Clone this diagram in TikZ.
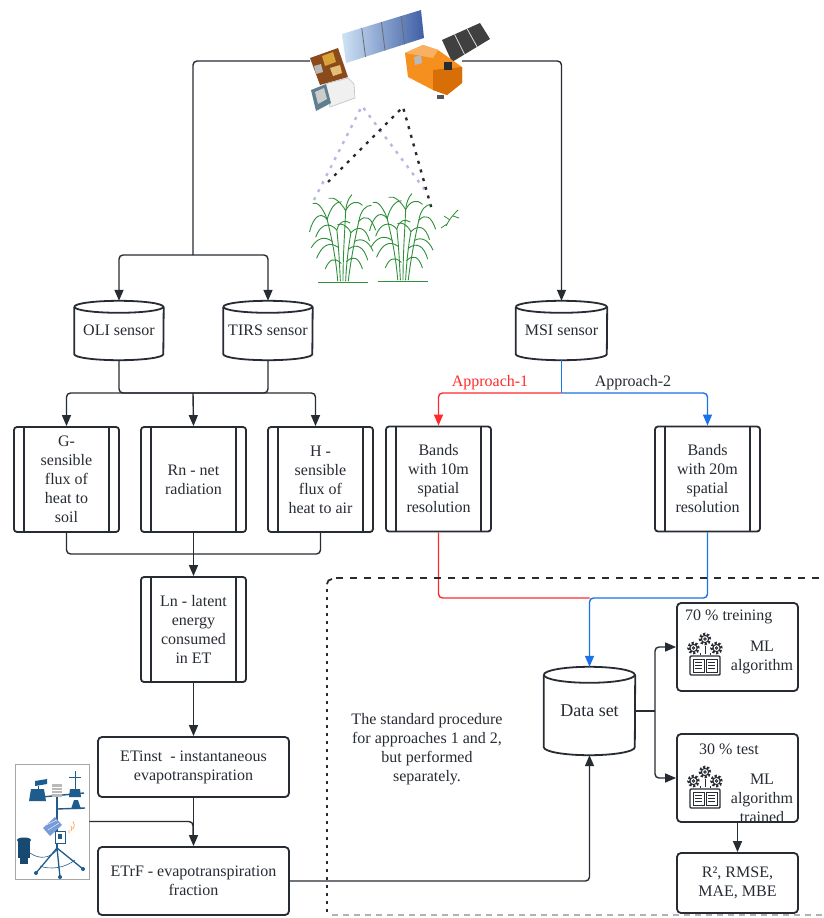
\documentclass[tikz,border=0pt]{standalone}
\usepackage{fontspec}
\setmainfont{Liberation Serif}
\usetikzlibrary{arrows.meta,calc}
\definecolor{ink}{HTML}{272C33}
\definecolor{ared}{HTML}{FF2B2B}
\definecolor{ablue}{HTML}{1A73E8}
\definecolor{leaf}{HTML}{2F8F3A}
\definecolor{stblue}{HTML}{1E5C8E}
\definecolor{sky}{HTML}{CFE3F5}
\definecolor{panelblue}{HTML}{3F5FA6}
\definecolor{sorange}{HTML}{F5901E}
\definecolor{sdorange}{HTML}{D86E08}
\definecolor{lbrown}{HTML}{8A4A1C}
\definecolor{lgold}{HTML}{D9A23A}
\definecolor{slate}{HTML}{5D7F8F}
\newcommand\mytxt{\fontsize{16}{19}\selectfont}
\newcommand\cylout[3]{%
  \draw[draw=ink,line width=1.8pt] ([yshift=-#3]#1.north west) arc[start angle=180,end angle=-180,x radius=#2,y radius=#3];
  \draw[draw=ink,line width=1.8pt] ([yshift=-#3]#1.north west) -- ([yshift=#3]#1.south west) arc[start angle=180,end angle=360,x radius=#2,y radius=#3] -- ([yshift=-#3]#1.north east);}
\newcommand\proclines[1]{%
  \draw[draw=ink,line width=1.8pt] ([xshift=11pt]#1.north west) -- ([xshift=11pt]#1.south west) ([xshift=-11pt]#1.north east) -- ([xshift=-11pt]#1.south east);}
\newcommand\canes[1]{%
  \begin{scope}[shift={#1},scale=0.88,draw=leaf,line width=0.9pt,line cap=round]
    \draw (-6,0) .. controls (-8,-25) and (-12,-45) .. (-18,-70);
    \draw (-3,0) .. controls (-4,-20) and (-5,-40) .. (-7,-58);
    \draw (0,0) .. controls (0,-30) and (2,-55) .. (3,-80);
    \draw (3,0) .. controls (4,-20) and (6,-38) .. (9,-55);
    \draw (6,0) .. controls (9,-25) and (13,-45) .. (18,-68);
    \draw (-18,-70) .. controls (-26,-80) and (-34,-72) .. (-38,-56);
    \draw (-18,-70) .. controls (-14,-84) and (-8,-90) .. (-2,-90);
    \draw (-18,-70) .. controls (-24,-86) and (-30,-90) .. (-34,-88);
    \draw (3,-80) .. controls (8,-90) and (16,-92) .. (22,-86);
    \draw (3,-80) .. controls (-3,-90) and (-10,-96) .. (-16,-94);
    \draw (3,-80) .. controls (4,-88) and (6,-94) .. (10,-98);
    \draw (18,-68) .. controls (26,-76) and (32,-72) .. (37,-58);
    \draw (18,-68) .. controls (20,-80) and (26,-86) .. (32,-86);
    \draw (-7,-58) .. controls (-16,-68) and (-26,-64) .. (-31,-50);
    \draw (-7,-58) .. controls (-4,-68) and (2,-70) .. (8,-66);
    \draw (9,-55) .. controls (18,-64) and (26,-60) .. (30,-46);
    \draw (9,-55) .. controls (4,-64) and (-2,-66) .. (-6,-64);
    \draw (-5,-38) .. controls (-16,-46) and (-24,-40) .. (-30,-26);
    \draw (6,-36) .. controls (16,-44) and (24,-38) .. (28,-24);
    \draw (-2,-20) .. controls (-10,-28) and (-16,-24) .. (-20,-14);
    \draw (4,-22) .. controls (12,-30) and (18,-26) .. (22,-14);
    \draw (13,-45) .. controls (22,-50) and (30,-44) .. (34,-34);
    \draw (-12,-45) .. controls (-22,-52) and (-30,-48) .. (-36,-38);
    \draw[line width=0.6pt] (-28,2) -- (28,2);
  \end{scope}}
\tikzset{mlicon/.pic={
  \foreach \gx/\gy in {-11.5/-8,0/-17,11.5/-8}{
    \draw[ink,line width=2.6pt,dash pattern=on 2pt off 1.8pt] (\gx,\gy) circle[radius=5pt];
    \draw[ink,line width=1pt,fill=white] (\gx,\gy) circle[radius=3.6pt];
    \draw[ink,line width=0.9pt] (\gx,\gy) circle[radius=1.3pt];
  }
  \draw[ink,line width=0.8pt] (-5,-3)--(-5,-1) (0,-10)--(0,-2) (5,-3)--(5,-1);
  \draw[ink,line width=1.4pt,rounded corners=1pt] (-15,0) rectangle (15,19);
  \draw[ink,line width=1pt] (-12,3) rectangle (-1,16) (1,3) rectangle (12,16);
  \foreach \ly in {6.5,9.5,12.5}{\draw[ink,line width=0.9pt] (-10,\ly)--(-3,\ly) (3,\ly)--(10,\ly);}
}}
\begin{document}
\begin{tikzpicture}[x=1pt,y=-1pt,
  conn/.style={draw=ink,line width=1.4pt,rounded corners=4pt},
  arr/.style={-{Triangle[length=11pt,width=9pt]}},
  procbox/.style={draw=ink,line width=1.8pt,rounded corners=3pt,minimum width=105pt,minimum height=105pt,inner sep=0pt,align=center,font=\mytxt,text=ink},
  cylnode/.style={inner sep=0pt,minimum width=89pt,minimum height=59pt,font=\mytxt,text=ink},
  rbox/.style={draw=ink,line width=1.8pt,rounded corners=4pt,inner sep=0pt,align=center,font=\mytxt,text=ink},
  lbl/.style={font=\mytxt,text=ink,align=center,inner sep=0pt}]
\useasboundingbox (0,0) rectangle (824,918);
\fill[white] (0,0) rectangle (824,918);

% ---------- satellites ----------
\coordinate (pA) at (342,34); \coordinate (pB) at (421,10);
\coordinate (pC) at (424,38); \coordinate (pD) at (346,63);
\shade[left color=sky,right color=panelblue] (pA)--(pB)--(pC)--(pD)--cycle;
\foreach \t in {0.25,0.5,0.75}{\draw[ink!70,line width=0.8pt] ($(pA)!\t!(pB)$) -- ($(pD)!\t!(pC)$);}
\fill[lbrown] (310,58) -- (338,48) -- (348,77) -- (320,85) -- cycle;
\fill[lgold] (322,56) -- (333,52) -- (336,62) -- (325,66) -- cycle;
\fill[gray!55] (314,66) -- (321,64) -- (323,72) -- (316,74) -- cycle;
\fill[lgold!70!white] (330,68) -- (340,65) -- (342,73) -- (333,76) -- cycle;
\fill[gray!12] (325,84) -- (348,78) -- (354,84) -- (355,98) -- (330,107) -- cycle;
\draw[gray!50,line width=0.6pt] (325,84) -- (348,78) -- (354,84) -- (355,98) -- (330,107) -- cycle;
\fill[slate] (311,90) -- (326,84) -- (331,103) -- (316,111) -- cycle;
\fill[gray!40] (315,92) -- (324,88) -- (327,99) -- (318,104) -- cycle;
% sentinel
\fill[gray!50!black] (442,40)--(480,23)--(490,39)--(452,62)--cycle;
\foreach \t in {0.33,0.66}{\draw[gray!25,line width=0.8pt] ($(442,40)!\t!(480,23)$) -- ($(452,62)!\t!(490,39)$);}
\fill[sorange] (405,53) -- (423,45) -- (438,50) -- (462,67) -- (462,83) -- (447,95) -- (433,90) -- (408,77) -- cycle;
\fill[sdorange] (433,70) -- (462,67) -- (462,83) -- (447,95) -- (433,90) -- cycle;
\fill[sorange!70!white] (405,53) -- (423,45) -- (438,50) -- (433,58) -- cycle;
\fill[gray!55] (414,57) -- (421,55) -- (422,63) -- (415,65) -- cycle;
\fill[ink] (444,62) rectangle (452,70);
\fill[ink!80] (437,95) rectangle (444,99);

% ---------- dotted view lines ----------
\draw[gray!60!blue!40,line width=2.4pt,dash pattern=on 3pt off 6pt] (314,200) -- (362,106) -- (425,190);
\draw[ink,line width=2.4pt,dash pattern=on 3pt off 6pt] (328,182) -- (403,107) -- (432,210);

% ---------- sugarcane ----------
\canes{(343,281)}
\canes{(403,280)}
\begin{scope}[draw=leaf,line width=0.8pt]
  \draw (446,226) .. controls (450,218) and (454,214) .. (458,210);
  \draw (450,220) -- (444,216) (453,216) -- (459,218) (447,224) -- (441,228);
\end{scope}

% ---------- nodes ----------
\node[cylnode] (oli) at (119,330.5) {OLI sensor};
\node[cylnode] (tirs) at (268,330.5) {TIRS sensor};
\node[cylnode,minimum width=91pt] (msi) at (561.5,330.5) {MSI sensor};
\cylout{oli}{44.5pt}{6pt}
\cylout{tirs}{44.5pt}{6pt}
\cylout{msi}{45.5pt}{6pt}

\node[procbox] (G) at (66.5,479.5) {G-\\sensible\\flux of\\heat to\\soil};
\node[procbox] (Rn) at (193.5,479.5) {Rn - net\\radiation};
\node[procbox] (H) at (320.5,479.5) {H -\\sensible\\flux of\\heat to air};
\node[procbox] (B10) at (438.5,479) {Bands\\with 10m\\spatial\\resolution};
\node[procbox] (B20) at (707.5,479) {Bands\\with 20m\\spatial\\resolution};
\node[procbox] (Ln) at (193.5,629.5) {Ln - latent\\energy\\consumed\\in ET};
\foreach \n in {G,Rn,H,B10,B20,Ln}{\proclines{\n}}

\node[rbox,minimum width=191pt,minimum height=60pt] (ETi) at (193.5,767) {ETinst~~- instantaneous\\evapotranspiration};
\node[rbox,minimum width=191pt,minimum height=68pt] (ETf) at (193.5,881) {ETrF - evapotranspiration\\fraction};

\node[draw=gray!70,line width=0.8pt,minimum width=74pt,minimum height=115pt,inner sep=0pt] (station) at (52,821.5) {};

\node[inner sep=0pt,minimum width=91pt,minimum height=88pt,font=\fontsize{18}{21}\selectfont,text=ink] (ds) at (589.5,711) {Data set};
\cylout{ds}{45.5pt}{8pt}

\node[rbox,minimum width=121pt,minimum height=88pt] (T70) at (737.5,647) {};
\node[rbox,minimum width=121pt,minimum height=88pt] (T30) at (737.5,778) {};
\node[rbox,minimum width=121pt,minimum height=60pt] (R2) at (737.5,883) {R², RMSE,\\MAE, MBE};
\node[lbl,anchor=west] (t70a) at (685,617) {70 \% treining};
\node[lbl] (t70b) at (762,657) {ML\\algorithm};
\node[lbl] (t30a) at (729,749) {30 \% test};
\node[lbl] (t30b) at (762,798) {ML\\algorithm\\trained};
\pic at (705,656) {mlicon};
\pic at (705,789) {mlicon};

\node[lbl] (note) at (427,749) {The standard procedure\\for approaches 1 and 2,\\but performed\\separately.};

\node[lbl,text=ared] (ap1) at (490,383) {Approach-1};
\node[lbl] (ap2) at (633,383) {Approach-2};

% ---------- weather station drawing ----------
\begin{scope}[stblue]
  \draw[line width=1.6pt] (57,786) -- (57,848);
  \draw[line width=1.4pt] (31,798) -- (84,793);
  \draw[line width=1.4pt] (57,809) -- (85,808);
  \fill (31,789) -- (44,789) -- (46,801) -- (29,801) -- cycle;
  \fill (35,781) -- (47,779) -- (47,784) -- (35,786) -- cycle;
  \draw[line width=1pt] (38,786) -- (38,789);
  \fill[gray!55] (52,784) rectangle (62,797);
  \draw[white,line width=0.5pt] (52,787) -- (62,787) (52,790) -- (62,790) (52,793) -- (62,793);
  \draw[line width=1pt] (69,777) -- (81,777) (75,771) -- (75,790);
  \fill (70,789) -- (80,789) -- (81,797) -- (69,797) -- cycle;
  \fill (71,809) -- (81,809) -- (78,800) -- (74,800) -- cycle;
  \fill[cyan!45!blue!55] (43,828) -- (55,817) -- (62,825) -- (50,836) -- cycle;
  \draw[white,line width=0.4pt] (46,825) -- (57,820) (48,830) -- (59,823);
  \fill[white] (55,831) rectangle (65,843);
  \draw[line width=0.8pt] (55,831) rectangle (65,843);
  \fill (58,834) rectangle (62,839);
  \draw[orange!80,line width=0.6pt] (69,833) arc[start angle=-40,end angle=40,radius=2pt] (71,831) arc[start angle=-40,end angle=40,radius=4pt] (73,829) arc[start angle=-40,end angle=40,radius=6pt];
  \draw[line width=1.3pt] (57,848) -- (36,873) (57,848) -- (83,869) (57,848) -- (60,877);
  \fill (36,873) circle[radius=2pt] (83,869) circle[radius=2pt] (60,877) circle[radius=2pt];
  \fill[stblue!80!black] (18,840) rectangle (30,858);
  \fill[stblue!80!black] (24,840) ellipse[x radius=7pt,y radius=2.5pt];
  \fill[stblue!80!black] (20,858) rectangle (28,864);
  \draw[line width=0.6pt] (30,853) .. controls (40,860) and (50,858) .. (57,850);
  \draw[line width=0.6pt] (40,866) .. controls (50,870) and (65,868) .. (75,860);
\end{scope}

% ---------- connectors ----------
\coordinate (lsat) at (310,61);
\coordinate (rsat) at (462,61);
\coordinate (jA) at (193,255);
\coordinate (jB) at (193,393);
\coordinate (jC) at (193,554);
\coordinate (jD) at (193,836);
\coordinate (jE) at (561.5,393);
\coordinate (jF) at (589.5,598);
\coordinate (jG) at (655,711);

\draw[conn] (lsat) -| (jA);
\draw[conn,arr] (jA) -| (oli.north);
\draw[conn,arr] (jA) -| (tirs.north);
\draw[conn,arr] (rsat) -| (msi.north);

\draw[conn] (oli.south) |- (jB);
\draw[conn] (tirs.south) |- (jB);
\draw[conn,arr] (jB) -| (G.north);
\draw[conn,arr] (jB) -- (Rn.north);
\draw[conn,arr] (jB) -| ([xshift=-5pt]H.north);

\draw[conn] (G.south) |- (jC);
\draw[conn] (H.south) |- (jC);
\draw[conn,arr] (Rn.south) -- (Ln.north);
\draw[conn,arr] (Ln.south) -- (ETi.north);
\draw[conn] (station.east) -| (jD);
\draw[conn,arr] (ETi.south) -- (ETf.north);
\draw[conn,arr] (ETf.east) -| (ds.south);

\draw[conn,draw=ablue] (msi.south) -- (jE);
\draw[conn,draw=ared,arr] (jE) -| (B10.north);
\draw[conn,draw=ablue,arr] (jE) -| (B20.north);
\draw[conn,draw=ared] (B10.south) |- (jF);
\draw[conn,draw=ablue,arr] (B20.south) |- (jF) -- (ds.north);

\draw[conn] (ds.east) -- (jG);
\draw[conn,arr] (jG) |- (T70.west);
\draw[conn,arr] (jG) |- (T30.west);
\draw[conn,arr] (T30.south) -- (R2.north);

% ---------- dashed frame ----------
\draw[ink,line width=2pt,dash pattern=on 3pt off 5pt] (327,912) -- (327,584);
\draw[ink,line width=1.8pt] (327,584) arc[start angle=180,end angle=90,radius=5pt];
\draw[ink,line width=1.6pt,dash pattern=on 7pt off 7pt] (336,578) -- (824,578);
\draw[gray!60,line width=1.2pt,dash pattern=on 6pt off 5pt] (332,915) -- (824,915);
\end{tikzpicture}
\end{document}
